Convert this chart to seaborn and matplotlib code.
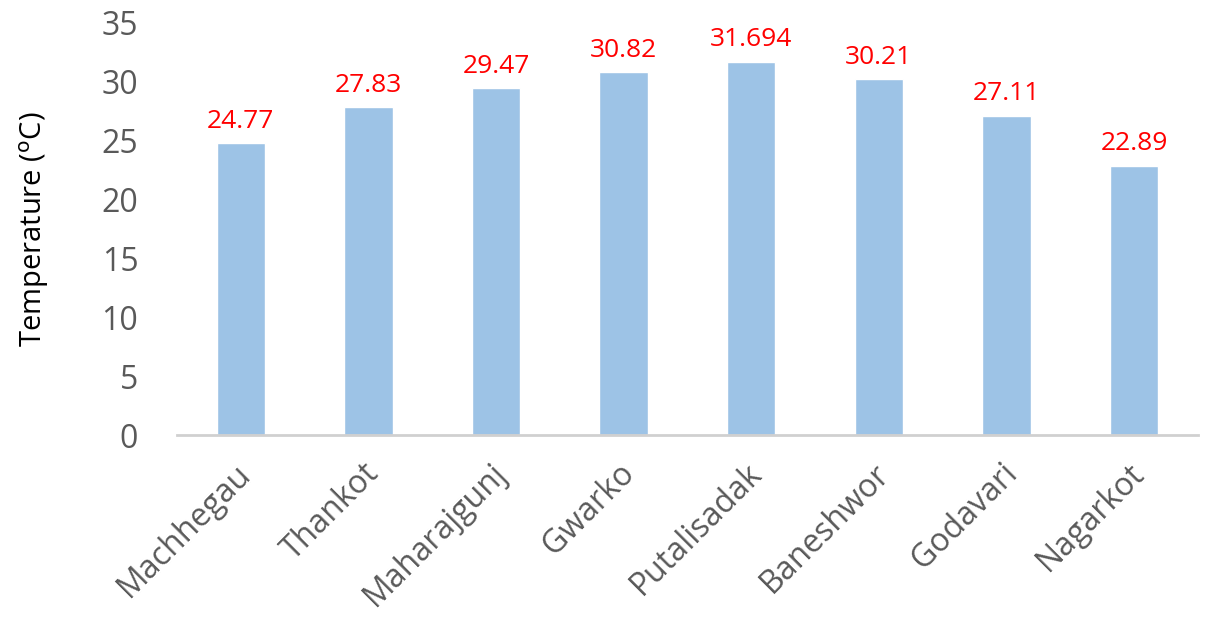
import matplotlib
matplotlib.use("Agg")
import matplotlib.pyplot as plt
import matplotlib.transforms as mtransforms
import seaborn as sns
import pandas as pd

sites = ["Machhegau", "Thankot", "Maharajgunj", "Gwarko", "Putalisadak",
         "Baneshwor", "Godavari", "Nagarkot"]
temperatures = [24.77, 27.83, 29.47, 30.82, 31.694, 30.21, 27.11, 22.89]
value_labels = ["24.77", "27.83", "29.47", "30.82", "31.694", "30.21", "27.11", "22.89"]
y_ticks = [0, 5, 10, 15, 20, 25, 30, 35]

sns.set_theme(style="white")
plt.rcParams["font.family"] = ["Open Sans", "DejaVu Sans"]

df = pd.DataFrame({"site": sites, "temp": temperatures})

fig = plt.figure(figsize=(12.05, 6.19), dpi=100)
ax = fig.add_axes([0.147, 0.297, 0.847, 0.666])

sns.barplot(data=df, x="site", y="temp", color="#9DC3E6", saturation=1,
            width=0.38, ax=ax)

for i, (v, lab) in enumerate(zip(temperatures, value_labels)):
    ax.text(i, v + 0.8, lab, ha="center", va="bottom", color="#FF0000",
            fontsize=19)

ax.set_ylim(0, 35)
ax.set_xlim(-0.5, len(sites) - 0.5)
ax.set_yticks(y_ticks)
ax.set_yticklabels([str(t) for t in y_ticks], fontsize=23, color="#595959")
ax.set_xticks(range(len(sites)))
ax.set_xticklabels(sites, rotation=45, ha="right", va="top",
                   rotation_mode="anchor", fontsize=23, color="#595959")
ax.tick_params(axis="both", length=0)
ax.tick_params(axis="y", pad=28)

# place the rotated category labels a little left of and below each tick
shift = mtransforms.ScaledTranslation(-6 / 100, -22 / 100, fig.dpi_scale_trans)
for lbl in ax.get_xticklabels():
    lbl.set_transform(ax.get_xaxis_transform() + shift)
    lbl.set_y(0)

ax.set_xlabel("")
ax.set_ylabel("Temperature (${}^{\\mathrm{o}}$C)", fontsize=21, color="#000000",
              labelpad=36)

for side in ["top", "right", "left"]:
    ax.spines[side].set_visible(False)
ax.spines["bottom"].set_color("#D0D0D0")
ax.spines["bottom"].set_linewidth(2)
ax.grid(False)

fig.savefig("out.png", dpi=100)
